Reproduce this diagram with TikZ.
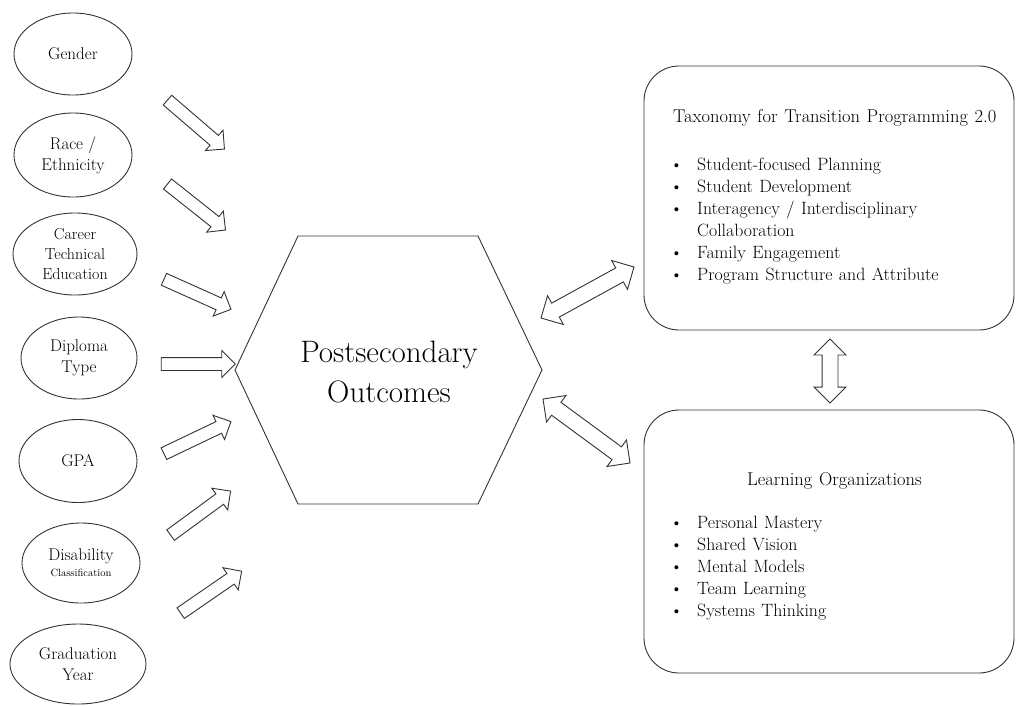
\documentclass[tikz,border=0pt]{standalone}
\usepackage{fontspec}
\usepackage{array}
\usetikzlibrary{shapes.geometric,shapes.arrows,calc}
\newcommand\myboxfont{\rmfamily\fontsize{17.8}{22}\selectfont\spaceskip=0.36em plus 0.1em minus 0.05em\relax}
\newcommand\mytitlefont{\rmfamily\fontsize{18.5}{22}\selectfont\spaceskip=0.36em plus 0.1em minus 0.05em\relax}
\begin{document}
\begin{tikzpicture}[x=1pt,y=-1pt,
  line/.style={draw=black!80, line width=0.9pt},
  oval/.style={ellipse, line, inner sep=0pt, align=center, text=black, font=\rmfamily\fontsize{17}{21}\selectfont},
  blk/.style={single arrow, line, fill=white, inner xsep=0pt, inner ysep=6pt, single arrow head extend=7pt, single arrow tip angle=90},
  dblk/.style={double arrow, line, fill=white, inner xsep=0pt, inner ysep=7.5pt, double arrow head extend=8.5pt, double arrow tip angle=90},
  panel/.style={line, rounded corners=35pt, minimum width=370pt, inner sep=0pt},
  boxtext/.style={inner sep=0pt, text=black, font=\myboxfont},
  boxtitle/.style={inner sep=0pt, text=black, font=\mytitlefont},
]
\useasboundingbox (0,0) rectangle (1016,705);

% ovals
\node[oval, minimum width=118pt, minimum height=82pt] (gender) at (73,54) {Gender};
\node[oval, minimum width=118pt, minimum height=84pt] (race) at (73,155) {Race /\\Ethnicity};
\node[oval, minimum width=124pt, minimum height=82pt, font=\rmfamily\fontsize{16}{20}\selectfont] (cte) at (75,254) {Career\\Technical\\Education};
\node[oval, minimum width=116pt, minimum height=82pt] (diploma) at (79,358) {Diploma\\Type};
\node[oval, minimum width=118pt, minimum height=83pt] (gpa) at (78,461) {GPA};
\node[oval, minimum width=118pt, minimum height=80pt] (dis) at (81,563) {Disability\\[-5pt]{\fontsize{10.5}{12}\selectfont Classification}};
\node[oval, minimum width=136pt, minimum height=80pt] (grad) at (78,664) {Graduation\\Year};

% hexagon
\coordinate (h1) at (298,236);
\coordinate (h2) at (478,236);
\coordinate (h3) at (542,370);
\coordinate (h4) at (478,504);
\coordinate (h5) at (298,504);
\coordinate (h6) at (235,370);
\draw[line] (h1) -- (h2) -- (h3) -- (h4) -- (h5) -- (h6) -- cycle;
\node[align=center, text=black, font=\rmfamily\fontsize{31}{40}\selectfont] (outc) at (389,372) {Postsecondary\\Outcomes};

% panels
\node[panel, minimum height=264pt] (tax) at (829,198) {};
\node[panel, minimum height=263pt] (lo) at (829,541.5) {};
\node[boxtitle, anchor=base west] (taxt) at (673,122) {Taxonomy for Transition Programming 2.0};
\node[boxtext, anchor=base west] (taxl) at (670,170) {\begin{tabular}[t]{@{}p{27pt}@{}>{\myboxfont}l@{}}
\textbullet & Student-focused Planning\\
\textbullet & Student Development\\
\textbullet & Interagency / Interdisciplinary\\
 & Collaboration\\
\textbullet & Family Engagement\\
\textbullet & Program Structure and Attribute
\end{tabular}};
\node[boxtitle, anchor=base west] (lot) at (747,485) {Learning Organizations};
\node[boxtext, anchor=base west] (lol) at (670,528) {\begin{tabular}[t]{@{}p{27pt}@{}>{\myboxfont}l@{}}
\textbullet & Personal Mastery\\
\textbullet & Shared Vision\\
\textbullet & Mental Models\\
\textbullet & Team Learning\\
\textbullet & Systems Thinking
\end{tabular}};

% single block arrows
\coordinate (t1) at (165,98);  \coordinate (e1) at (222,147);
\coordinate (t2) at (165,182); \coordinate (e2) at (223,228);
\coordinate (t3) at (161,278); \coordinate (e3) at (228,308);
\coordinate (t4) at (158,364); \coordinate (e4) at (232,364);
\coordinate (t5) at (161,455); \coordinate (e5) at (228,423);
\coordinate (t6) at (168,537); \coordinate (e6) at (228,493);
\coordinate (t7) at (178,615); \coordinate (e7) at (239,573);
\foreach \i in {1,...,7}{
  \path let \p1=($(e\i)-(t\i)$), \n1={veclen(\x1,\y1)} in
    (t\i) -- (e\i) node[blk, midway, sloped, minimum height=\n1] (a\i) {};
}

% double block arrows
\coordinate (d1a) at (541,318); \coordinate (d1b) at (634,267);
\coordinate (d2a) at (543,399); \coordinate (d2b) at (630,463);
\coordinate (d3a) at (830,339); \coordinate (d3b) at (830,403);
\path let \p1=($(d1b)-(d1a)$), \n1={veclen(\x1,\y1)} in
  (d1a) -- (d1b) node[dblk, midway, sloped, minimum height=\n1] (da1) {};
\path let \p1=($(d2b)-(d2a)$), \n1={veclen(\x1,\y1)} in
  (d2a) -- (d2b) node[dblk, midway, sloped, minimum height=\n1] (da2) {};
\path (d3a) -- (d3b) node[dblk, midway, sloped, minimum height=64pt, double arrow head extend=8pt] (da3) {};
\end{tikzpicture}
\end{document}
